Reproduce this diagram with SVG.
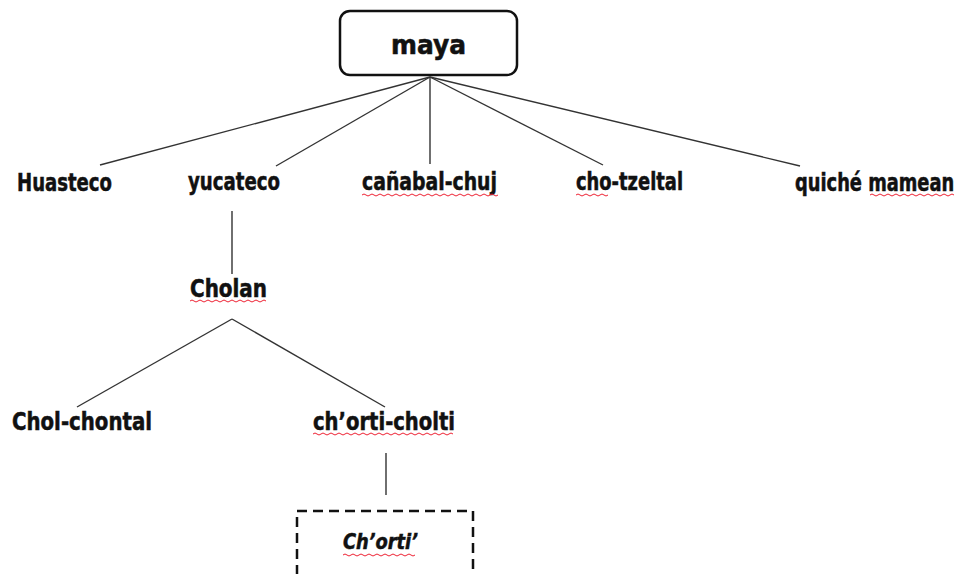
<svg xmlns="http://www.w3.org/2000/svg" width="963" height="574" viewBox="0 0 963 574">
<style>
.lbl{font-family:"DejaVu Sans Condensed","DejaVu Sans","Liberation Sans",sans-serif;font-stretch:condensed;font-weight:bold;font-size:24px;fill:#111;stroke:#111;stroke-width:0.5;}
.ln{stroke:#333;stroke-width:1.4;fill:none;}
.sq{stroke:#e23;stroke-width:1;fill:none;}
</style>
<rect width="963" height="574" fill="#fff"/>
<g id="connectors">
<line class="ln" x1="430" y1="77" x2="100" y2="165"/>
<line class="ln" x1="430" y1="77" x2="276" y2="166"/>
<line class="ln" x1="430" y1="77" x2="430" y2="164"/>
<line class="ln" x1="430" y1="77" x2="603" y2="165"/>
<line class="ln" x1="430" y1="77" x2="800" y2="166"/>
<line class="ln" x1="232" y1="211" x2="232" y2="274"/>
<line class="ln" x1="232" y1="319" x2="77" y2="407"/>
<line class="ln" x1="232" y1="319" x2="385" y2="407"/>
<line class="ln" x1="386" y1="453" x2="386" y2="495"/>
</g>
<g id="maya">
<rect x="340" y="11" width="177" height="64" rx="10" fill="#fff" stroke="#111" stroke-width="2.5"/>
<text x="391" y="54" textLength="75" lengthAdjust="spacingAndGlyphs" style="font-family:'DejaVu Sans',sans-serif;font-weight:bold;font-size:27px;fill:#111;stroke:#111;stroke-width:0.6">maya</text>
</g>
<g id="huasteco"><text class="lbl" x="17" y="191" textLength="95" lengthAdjust="spacingAndGlyphs">Huasteco</text></g>
<g id="yucateco"><text class="lbl" x="188" y="190" textLength="92" lengthAdjust="spacingAndGlyphs">yucateco</text></g>
<g id="canabal-chuj"><text class="lbl" x="362" y="190" textLength="135" lengthAdjust="spacingAndGlyphs">cañabal-chuj</text>
<path class="sq" d="M362,195 q2,-2 4,0 t4,0 t4,0 t4,0 t4,0 t4,0 t4,0 t4,0 t4,0 t4,0 t4,0 t4,0 t4,0 t4,0 t4,0 t4,0 t4,0 t4,0 t4,0 t4,0 t4,0 t4,0 t4,0 t4,0 t4,0 t4,0 t4,0 t4,0 t4,0 t4,0 t4,0 t4,0 t4,0 t4,0"/></g>
<g id="cho-tzeltal"><text class="lbl" x="576" y="190" textLength="107" lengthAdjust="spacingAndGlyphs">cho-tzeltal</text>
<path class="sq" d="M576,195 q2,-2 4,0 t4,0 t4,0 t4,0 t4,0 t4,0 t4,0 t4,0"/></g>
<g id="quiche-mamean"><text class="lbl" transform="translate(795,191) scale(0.8,1)" x="0" y="0" textLength="199" lengthAdjust="spacingAndGlyphs">quiché mamean</text>
<path class="sq" d="M870,195 q2,-2 4,0 t4,0 t4,0 t4,0 t4,0 t4,0 t4,0 t4,0 t4,0 t4,0 t4,0 t4,0 t4,0 t4,0 t4,0 t4,0 t4,0 t4,0 t4,0 t4,0 t4,0"/></g>
<g id="cholan"><text class="lbl" x="190" y="297" textLength="77" lengthAdjust="spacingAndGlyphs">Cholan</text>
<path class="sq" d="M190,301 q2,-2 4,0 t4,0 t4,0 t4,0 t4,0 t4,0 t4,0 t4,0 t4,0 t4,0 t4,0 t4,0 t4,0 t4,0 t4,0 t4,0 t4,0 t4,0 t4,0"/></g>
<g id="chol-chontal"><text class="lbl" x="12" y="430" textLength="140" lengthAdjust="spacingAndGlyphs">Chol-chontal</text></g>
<g id="chorti-cholti"><text class="lbl" x="313" y="430" textLength="142" lengthAdjust="spacingAndGlyphs">ch’orti-cholti</text>
<path class="sq" d="M313,434 q2,-2 4,0 t4,0 t4,0 t4,0 t4,0 t4,0 t4,0 t4,0 t4,0 t4,0 t4,0 t4,0 t4,0 t4,0 t4,0 t4,0 t4,0 t4,0 t4,0 t4,0 t4,0 t4,0 t4,0 t4,0 t4,0 t4,0 t4,0 t4,0 t4,0 t4,0 t4,0 t4,0 t4,0 t4,0 t4,0"/></g>
<g id="chorti">
<rect x="297" y="511" width="176" height="80" fill="none" stroke="#111" stroke-width="2.5" stroke-dasharray="10,6"/>
<text class="lbl" x="343" y="549" textLength="75" lengthAdjust="spacingAndGlyphs" style="font-style:italic;font-size:21px">Ch’orti’</text>
<path class="sq" d="M343,555 q2,-2 4,0 t4,0 t4,0 t4,0 t4,0 t4,0 t4,0 t4,0 t4,0 t4,0 t4,0 t4,0 t4,0 t4,0 t4,0 t4,0 t4,0 t4,0"/>
</g>
</svg>
